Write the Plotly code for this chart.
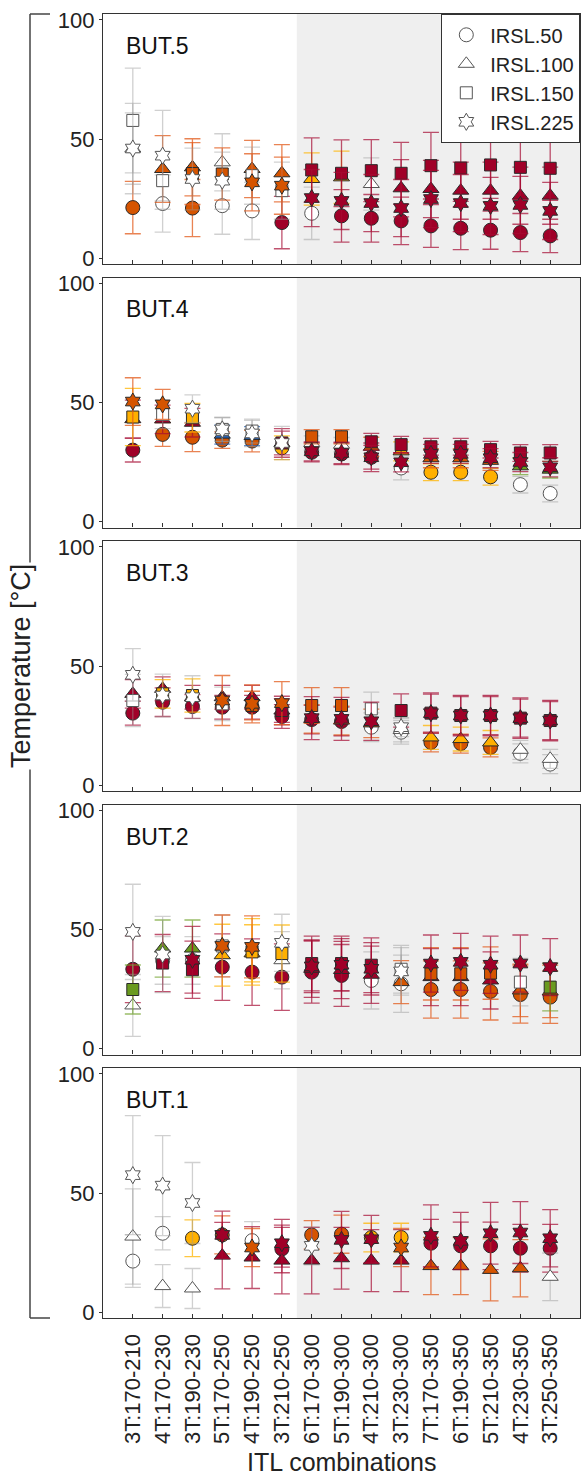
import plotly.graph_objects as go
from plotly.subplots import make_subplots

categories = ["3T:170-210", "4T:170-230", "3T:190-230", "5T:170-250", "4T:190-250", "3T:210-250",
              "6T:170-300", "5T:190-300", "4T:210-300", "3T:230-300", "7T:170-350", "6T:190-350",
              "5T:210-350", "4T:230-350", "3T:250-350"]
series_names = ["IRSL.50", "IRSL.100", "IRSL.150", "IRSL.225"]
samples = ["BUT.5", "BUT.4", "BUT.3", "BUT.2", "BUT.1"]
y_ticks = [0, 50, 100]

# colour class per point: w=white, o=orange, r=dark red, y=amber, g=green, b=blue
# ---------------- BUT.5
but5_irsl50 = [21.2, 22.9, 21.0, 22.0, 19.8, 14.9, 18.8, 17.7, 16.7, 15.6, 13.5, 12.5, 11.7, 10.7, 9.3]
but5_irsl50_err = [11, 12, 12, 12, 12, 11, 11, 11, 10, 10, 9, 9, 8, 8, 7]
but5_irsl50_cls = "owowwrwrrrrrrrr"
but5_irsl100 = [46.0, 37.4, 38.1, 40.2, 37.4, 35.6, 33.2, 33.9, 31.1, 29.3, 29.0, 28.3, 28.3, 26.2, 26.2]
but5_irsl100_err = [15, 14, 12, 12, 12, 12, 11, 11, 11, 12, 12, 12, 12, 12, 12]
but5_irsl100_cls = "woowooyywrrrrrr"
but5_irsl150 = [57.8, 32.5, 35.5, 35.3, 34.6, 28.3, 37.0, 35.6, 36.7, 35.6, 38.8, 37.8, 39.1, 38.1, 37.7]
but5_irsl150_err = [22, 12, 13, 11, 12, 12, 13.5, 14, 13, 13, 14, 14, 14, 13.5, 13.5]
but5_irsl150_cls = "wwoowwrrrrrrrrr"
but5_irsl225 = [46.0, 43.0, 33.2, 32.5, 31.8, 30.4, 25.2, 24.0, 23.1, 21.0, 24.8, 23.1, 21.9, 22.3, 19.8]
but5_irsl225_err = [19, 19, 13, 12, 12, 12, 12, 12, 12, 12, 12, 12, 12, 12, 12]
but5_irsl225_cls = "wwwwoorrrrrrrrr"

# ---------------- BUT.4
but4_irsl50 = [30.0, 36.6, 35.4, 34.2, 33.8, 31.0, 29.1, 28.4, 27.0, 22.5, 20.7, 20.7, 18.8, 15.5, 11.8]
but4_irsl50_err = [5, 5, 6, 3.5, 4.5, 5, 4, 4.5, 6, 5, 3.5, 3.5, 3.5, 3.5, 3.5]
but4_irsl50_cls = "rooooyrrrwyyyww"
but4_irsl100 = [43.0, 42.9, 41.5, 36.5, 35.9, 33.0, 33.0, 32.3, 31.4, 29.5, 26.6, 26.6, 25.5, 23.2, 21.8]
but4_irsl100_err = [8, 6, 6, 4, 4, 5, 3, 3, 4, 4, 4, 4, 4, 3.5, 3.5]
but4_irsl100_cls = "rrrbbrwwoyooogg"
but4_irsl150 = [43.9, 45.0, 43.6, 38.7, 38.0, 33.0, 35.6, 35.6, 33.5, 32.3, 31.4, 31.4, 30.2, 28.8, 28.8]
but4_irsl150_err = [12, 6, 6, 5, 5, 6, 3, 3, 3.5, 3.5, 3.5, 3.5, 3.5, 3.5, 3.5]
but4_irsl150_cls = "ywywwroorrrrrrr"
but4_irsl225 = [50.4, 49.2, 47.4, 38.7, 37.0, 33.0, 29.5, 28.8, 27.0, 24.9, 28.4, 28.4, 26.6, 25.0, 22.8]
but4_irsl225_err = [10, 6.3, 5.8, 5, 5.5, 7, 4, 4.5, 5, 4, 4, 4, 4, 4, 4]
but4_irsl225_cls = "oowwwwrrrrrrrrr"

# ---------------- BUT.3
but3_irsl50 = [30.2, 34.8, 33.0, 32.7, 32.7, 28.8, 27.5, 26.7, 24.3, 22.2, 17.9, 17.4, 15.8, 13.3, 8.8]
but3_irsl50_err = [5, 6, 5, 5, 5, 5, 6, 6, 6, 5, 4, 4, 4, 4, 4]
but3_irsl50_cls = "rrrrrrrrwwoooww"
but3_irsl100 = [38.3, 40.4, 36.9, 36.9, 36.9, 31.3, 27.8, 27.1, 25.9, 23.1, 20.0, 19.3, 17.9, 14.8, 11.0]
but3_irsl100_err = [6, 5, 5, 5, 5, 5, 6, 6, 6, 5, 5, 5, 5, 4, 4]
but3_irsl100_cls = "rrrrrrooowyyyww"
but3_irsl150 = [35.5, 38.3, 37.6, 34.1, 33.4, 31.3, 33.4, 33.4, 32.0, 31.3, 30.2, 29.2, 29.2, 28.1, 27.1]
but3_irsl150_err = [11, 6, 7, 7, 6, 6, 7.5, 7.5, 7, 7, 8.5, 8.5, 8.5, 8.5, 8.5]
but3_irsl150_cls = "wyyworoowrrrrrr"
but3_irsl225 = [46.3, 37.6, 36.9, 35.5, 34.1, 34.4, 28.1, 27.8, 26.8, 24.3, 30.2, 29.2, 29.2, 28.1, 27.1]
but3_irsl225_err = [11, 9, 9, 10.5, 8, 9, 9, 9, 8, 4, 8, 8, 8, 8, 8]
but3_irsl225_cls = "wwwooorrrwrrrrr"

# ---------------- BUT.2
but2_irsl50 = [33.3, 37.0, 37.0, 34.2, 32.1, 30.0, 32.1, 30.7, 28.6, 27.2, 24.8, 24.8, 24.0, 22.7, 21.6]
but2_irsl50_err = [14, 10, 10, 14, 14, 14, 13, 13, 12, 12, 12, 12, 12, 12, 11]
but2_irsl50_cls = "rwwrrrrrwwooooo"
but2_irsl100 = [18.1, 42.0, 42.0, 39.2, 40.0, 37.1, 33.5, 33.0, 31.0, 27.9, 30.0, 30.0, 28.6, 24.4, 24.0]
but2_irsl100_err = [13, 12, 12, 13, 12, 12, 12, 12, 12, 9, 12, 12, 12, 11, 11]
but2_irsl100_cls = "wggyywrrrorrroo"
but2_irsl150 = [24.8, 35.9, 33.1, 43.1, 40.6, 39.9, 35.7, 35.7, 35.0, 33.3, 31.4, 31.4, 31.7, 27.9, 25.8]
but2_irsl150_err = [10.3, 12, 12, 13, 14, 12, 11.5, 11.5, 11.5, 10, 11, 11, 11, 10, 10]
but2_irsl150_cls = "grrwyyrrrwooowg"
but2_irsl225 = [49.0, 39.5, 37.3, 43.1, 42.7, 44.4, 34.5, 35.2, 33.5, 32.4, 35.7, 36.4, 35.2, 35.7, 34.2]
but2_irsl225_err = [20, 16, 14, 13, 13, 12, 11, 11, 11, 10, 12, 12, 12, 12, 12]
but2_irsl225_cls = "wwroowrrrwrrrrr"

# ---------------- BUT.1
but1_irsl50 = [21.4, 33.1, 31.0, 32.4, 30.0, 26.5, 32.4, 32.7, 31.3, 31.3, 28.9, 27.8, 27.8, 26.8, 26.8]
but1_irsl50_err = [11, 7, 7.7, 8, 8, 10, 6, 8, 6, 6, 10, 10, 10, 10, 10]
but1_irsl50_cls = "wwyowrooyyrrrrr"
but1_irsl100 = [31.7, 10.9, 9.9, 23.7, 22.9, 21.6, 21.6, 22.6, 21.6, 21.6, 19.3, 19.3, 17.7, 18.4, 14.8]
but1_irsl100_err = [20, 9, 8.4, 14, 13, 14, 14, 13, 13, 13, 12, 12, 13, 12, 10]
but1_irsl100_cls = "wwwrrrrrrroooow"
but1_irsl225 = [57.5, 53.1, 45.8, 32.4, 27.1, 28.9, 27.8, 30.3, 30.6, 27.1, 32.0, 29.9, 33.1, 33.4, 31.0]
but1_irsl225_err = [25, 21, 17, 10, 8, 10, 8, 12, 10, 8, 13, 12, 13, 13, 12]
but1_irsl225_cls = "wwwrorwrrorrrrr"

panel_data = {
    "BUT.5": [(but5_irsl50, but5_irsl50_err, but5_irsl50_cls), (but5_irsl100, but5_irsl100_err, but5_irsl100_cls),
              (but5_irsl150, but5_irsl150_err, but5_irsl150_cls), (but5_irsl225, but5_irsl225_err, but5_irsl225_cls)],
    "BUT.4": [(but4_irsl50, but4_irsl50_err, but4_irsl50_cls), (but4_irsl100, but4_irsl100_err, but4_irsl100_cls),
              (but4_irsl150, but4_irsl150_err, but4_irsl150_cls), (but4_irsl225, but4_irsl225_err, but4_irsl225_cls)],
    "BUT.3": [(but3_irsl50, but3_irsl50_err, but3_irsl50_cls), (but3_irsl100, but3_irsl100_err, but3_irsl100_cls),
              (but3_irsl150, but3_irsl150_err, but3_irsl150_cls), (but3_irsl225, but3_irsl225_err, but3_irsl225_cls)],
    "BUT.2": [(but2_irsl50, but2_irsl50_err, but2_irsl50_cls), (but2_irsl100, but2_irsl100_err, but2_irsl100_cls),
              (but2_irsl150, but2_irsl150_err, but2_irsl150_cls), (but2_irsl225, but2_irsl225_err, but2_irsl225_cls)],
    "BUT.1": [(but1_irsl50, but1_irsl50_err, but1_irsl50_cls), (but1_irsl100, but1_irsl100_err, but1_irsl100_cls),
              None, (but1_irsl225, but1_irsl225_err, but1_irsl225_cls)],
}

FONT = "Liberation Sans, Arial, Helvetica, sans-serif"
fill_col = {"w": "#ffffff", "o": "#d55400", "r": "#a00028", "y": "#ffb000", "g": "#6a9a1f", "b": "#2a64b4"}
edge_col = {"w": "#555555", "o": "#2a2a2a", "r": "#2a2a2a", "y": "#2a2a2a", "g": "#2a2a2a", "b": "#2a2a2a"}
err_col = {"w": "rgba(150,150,150,0.45)", "o": "rgba(225,90,25,0.75)", "r": "rgba(165,10,50,0.7)",
           "y": "rgba(255,180,0,0.75)", "g": "rgba(110,160,40,0.7)", "b": "rgba(40,100,180,0.75)"}
symbols = ["circle", "triangle-up", "square", "hexagram"]
sizes = [14, 14, 12, 13]

fig = make_subplots(rows=5, cols=1)

xs = list(range(1, len(categories) + 1))
for r, name in enumerate(samples, start=1):
    for s, entry in enumerate(panel_data[name]):
        if entry is None:
            continue
        vals, errs, cls = entry
        for c in "wobygr":
            idx = [i for i in range(len(vals)) if cls[i] == c]
            if not idx:
                continue
            fig.add_trace(go.Scatter(
                x=[xs[i] for i in idx], y=[vals[i] for i in idx], mode="markers",
                marker=dict(symbol=symbols[s], size=sizes[s], color=fill_col[c],
                            line=dict(color=edge_col[c], width=1)),
                error_y=dict(type="data", array=[errs[i] for i in idx], color=err_col[c],
                             thickness=1.3, width=8),
                showlegend=False, hoverinfo="skip"), row=r, col=1)

# legend entries
for s, nm in enumerate(series_names):
    fig.add_trace(go.Scatter(x=[None], y=[None], mode="markers", name=nm,
                             marker=dict(symbol=symbols[s], size=sizes[s], color="white",
                                         line=dict(color="#555555", width=1))), row=1, col=1)

H = 1304.0
shapes = []
annotations = []
for i, name in enumerate(samples):
    top = i * 263.5
    bot = top + 250
    dom = [1 - bot / H, 1 - top / H]
    n = "" if i == 0 else str(i + 1)
    fig.layout["yaxis" + n].update(domain=dom, range=[-2.5, 102.5], tickvals=y_ticks,
                                   ticks="outside", ticklen=3, tickcolor="#333", showline=True,
                                   linecolor="#333", linewidth=1.3, mirror=True, showgrid=False,
                                   zeroline=False, tickfont=dict(size=22, color="#222", family=FONT))
    fig.layout["xaxis" + n].update(range=[0, 16], tickvals=xs, ticktext=categories,
                                   ticks="inside", ticklen=4, tickcolor="#333", showline=True,
                                   linecolor="#333", linewidth=1.3, mirror=True, showgrid=False,
                                   zeroline=False, showticklabels=(i == 4), tickangle=-90,
                                   ticklabelstandoff=6,
                                   tickfont=dict(size=22, color="#222", family=FONT))
    shapes.append(dict(type="rect", xref="x" + n, yref="y" + n + " domain", x0=6.5, x1=16,
                       y0=0, y1=1, fillcolor="#efefef", line=dict(width=0), layer="below"))
    annotations.append(dict(text=name, xref="x" + n + " domain", yref="y" + n + " domain",
                            x=0.045, y=0.872, xanchor="left", yanchor="middle", showarrow=False,
                            font=dict(size=23, color="#111", family=FONT)))

# outer bracket
bx = (30 - 103) / 477.0
bx2 = (50 - 103) / 477.0
shapes += [
    dict(type="line", xref="paper", yref="paper", x0=bx, x1=bx, y0=0, y1=1, line=dict(color="#444", width=1.5)),
    dict(type="line", xref="paper", yref="paper", x0=bx, x1=bx2, y0=1, y1=1, line=dict(color="#444", width=1.5)),
    dict(type="line", xref="paper", yref="paper", x0=bx, x1=bx2, y0=0, y1=0, line=dict(color="#444", width=1.5)),
]
annotations.append(dict(text="Temperature [°C]", xref="paper", yref="paper", x=(21 - 103) / 477.0, y=0.5,
                        textangle=-90, showarrow=False, bgcolor="white", xanchor="center", yanchor="middle",
                        font=dict(size=27, color="#222", family=FONT)))
annotations.append(dict(text="ITL combinations", xref="paper", yref="paper", x=0.5,
                        y=1 - (1462 - 14) / H, showarrow=False, xanchor="center", yanchor="middle",
                        font=dict(size=25, color="#222", family=FONT)))

fig.update_layout(
    width=585, height=1483, margin=dict(l=103, r=5, t=14, b=165),
    paper_bgcolor="white", plot_bgcolor="white", shapes=shapes, annotations=annotations,
    font=dict(family=FONT, color="#222"),
    legend=dict(x=1, y=1, xanchor="right", yanchor="top", bgcolor="white", bordercolor="#333",
                borderwidth=1.3, font=dict(size=20, family=FONT, color="#222"), itemsizing="trace",
                itemwidth=38, tracegroupgap=0),
)

fig.write_html("out.html")
